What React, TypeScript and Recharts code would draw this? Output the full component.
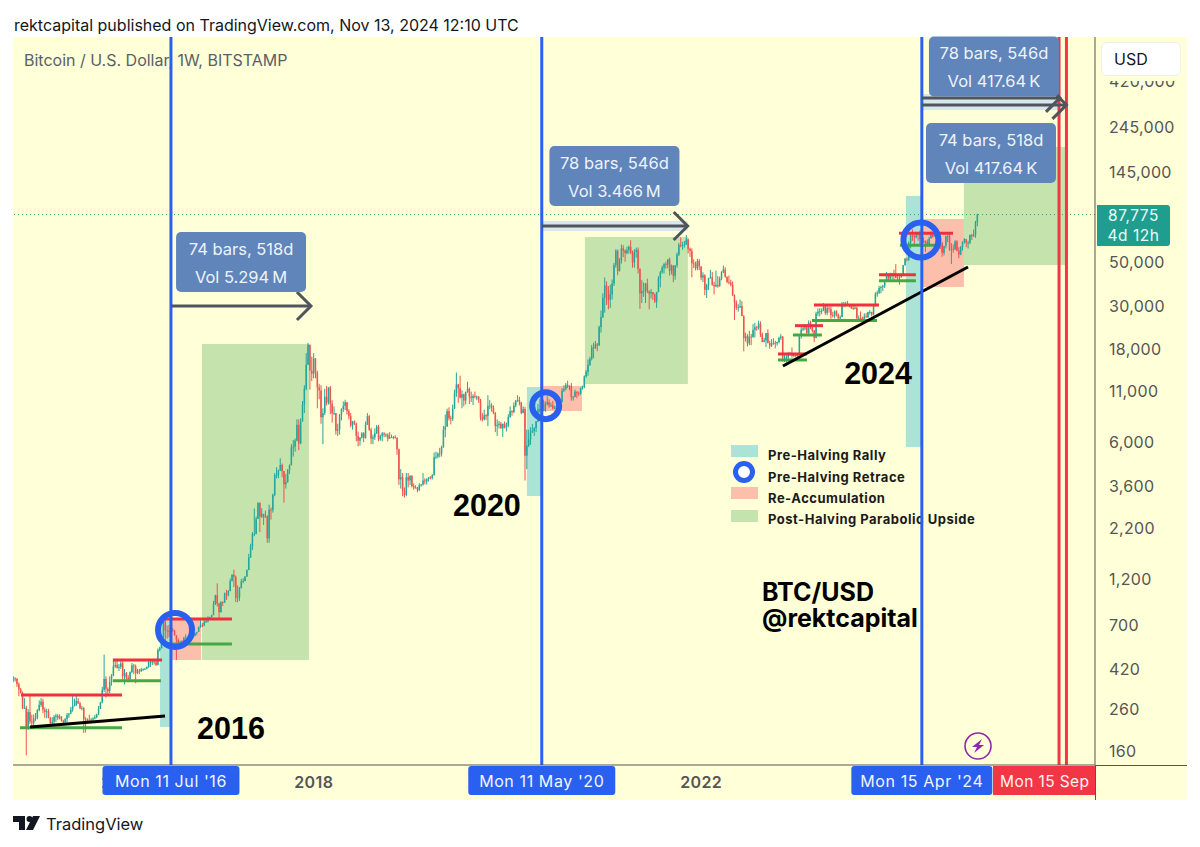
import React from 'react';
import {
    ComposedChart,
    Bar,
    XAxis,
    YAxis,
    ReferenceArea,
    ReferenceLine,
    ReferenceDot,
} from 'recharts';

// weekly bars, rows are [high, low, close], open is the previous close
const firstOpen = 372;
const bars2014 = [[386,360,375],[381,362,375],[375,340,351],[358,305,330],[336,314,317],[322,262,264]];
const bars2015 = [[298,262,266],[272,152,209],[262,205,253],[309,220,226],[245,212,223],[246,216,234],[250,228,237],[262,232,259],[290,255,275],[298,268,286],[295,250,260],[267,236,253],[263,235,255],[262,235,237],[238,214,222],[238,217,226],[244,215,239],[248,225,242],[247,230,236],[246,232,240],[240,226,229],[231,220,224],[236,223,233],[250,224,244],[250,236,248],[268,248,260],[310,254,272],[296,270,274],[308,272,288],[298,278,280],[285,262,264],[272,258,265],[268,198,232],[238,199,229],[235,224,231],[245,226,230],[236,222,231],[238,223,234],[245,232,238],[248,235,246],[272,244,262],[285,262,283],[340,280,328],[497,320,373],[385,300,332],[338,312,323],[385,315,360],[395,345,388],[468,385,433],[470,425,440],[470,422,425],[445,410,430]];
const bars2016 = [[460,420,448],[460,360,386],[420,350,400],[405,362,378],[390,365,372],[408,370,405],[450,400,437],[445,395,432],[442,355,400],[420,395,412],[420,395,410],[425,405,417],[422,410,420],[425,415,420],[432,418,430],[460,425,455],[468,430,455],[465,440,458],[462,442,455],[462,435,440],[535,438,525],[545,515,535],[610,535,605],[770,605,745],[765,550,660],[700,600,655],[705,610,650],[680,640,665],[680,650,655],[665,620,625],[625,466,590],[600,570,575],[585,550,580],[590,560,570],[612,562,605],[630,600,608],[612,600,608],[612,590,600],[610,595,608],[620,605,618],[645,615,640],[650,625,648],[690,648,688],[745,680,705],[720,685,700],[755,695,730],[755,720,735],[780,725,765],[775,745,772],[795,770,790],[935,790,900],[1005,890,998]];
const bars2017 = [[1150,875,905],[915,745,820],[930,812,920],[930,880,915],[1030,915,1020],[1065,945,1000],[1060,985,1050],[1215,1045,1180],[1280,1175,1270],[1350,1100,1240],[1260,920,968],[1120,920,975],[1100,935,1085],[1210,1085,1175],[1220,1150,1180],[1250,1175,1245],[1350,1240,1345],[1625,1340,1555],[1830,1550,1770],[2100,1700,2050],[2770,2000,2050],[2520,2050,2450],[2980,2450,2950],[2980,2100,2520],[2780,2480,2600],[2600,2280,2500],[2700,2480,2520],[2560,1850,1950],[2900,1850,2730],[2800,2430,2720],[3300,2640,3250],[4200,3200,4100],[4500,3950,4100],[4380,3950,4340],[5000,4300,4620],[4700,4000,4300],[4300,2970,3680],[4150,3500,3780],[4400,3750,4370],[4650,4150,4610],[5900,4600,5680],[6200,5100,5730],[6300,5400,6150],[7900,6100,7400],[7900,5500,5950],[8000,5900,7700],[9800,7700,9400],[11800,8500,11300],[17200,11100,15000],[19400,15000,19000],[19000,11200,14000],[16500,12400,13500]];
const bars2018 = [[17200,12800,16200],[16200,12800,13700],[14000,9000,11500],[12000,10000,11100],[11800,7500,8100],[9000,5900,8500],[11300,8300,10300],[11700,9300,9600],[11500,9400,11500],[11700,8400,9500],[9900,7600,8500],[9200,8300,8500],[8500,6600,6900],[7500,6500,7000],[8400,6600,8350],[9000,7800,8900],[9750,8600,9250],[9950,8800,9650],[9700,8350,8700],[8900,7900,8200],[8500,7200,7350],[7750,7000,7700],[7800,7400,7500],[7600,6100,6500],[6850,5750,6150],[6400,5800,6380],[6800,6300,6700],[6800,6050,6350],[7700,6300,7400],[8500,7400,8200],[8300,6900,7000],[7150,5900,6300],[6600,5900,6400],[7100,6200,6700],[7400,6650,7250],[7400,6100,6250],[6600,6150,6500],[6800,6100,6700],[6800,6400,6600],[6700,6400,6600],[6700,6100,6300],[6800,6350,6420],[6600,6350,6400],[6500,6250,6420],[6550,6300,6350],[6400,5200,5550],[5600,3650,3900],[4400,3500,4000],[4200,3200,3400],[3550,3150,3250],[4200,3200,4000],[4200,3550,3850]];
const bars2019 = [[4100,3650,4050],[4100,3550,3600],[3720,3450,3550],[3640,3500,3540],[3560,3350,3450],[3730,3400,3650],[3700,3580,3670],[4200,3620,3850],[3950,3680,3810],[3950,3670,3920],[4000,3800,3990],[4050,3900,3970],[4150,3900,4100],[5350,4080,5050],[5400,4950,5100],[5350,5000,5290],[5650,5050,5280],[5800,5100,5700],[7300,5650,7000],[8350,6400,7250],[8950,7250,8700],[9100,7800,8000],[8250,7450,7950],[9400,7750,8950],[11200,8950,10800],[13700,10300,11900],[12000,9600,11400],[13200,10100,10200],[11100,9000,10600],[10700,9200,9850],[10950,9400,10900],[12300,10800,11300],[11500,9450,10300],[10950,9700,10150],[10600,9350,10400],[10950,10100,10300],[10450,9900,10300],[10400,9600,9980],[10050,7800,8050],[8500,7700,7900],[8850,7800,8300],[8400,7850,8200],[10500,7300,9250],[9900,8900,9300],[9550,8650,9050],[9300,8400,8500],[8600,6800,7300],[7900,6500,7400],[7750,7100,7500],[7650,7100,7100],[7500,6430,7500],[7700,7100,7200]];
const bars2020 = [[7600,6850,7350],[8400,7200,8100],[9200,8050,8700],[8800,8250,8600],[9650,8500,9300],[9900,9100,9850],[10500,9700,9900],[10300,9300,9650],[9700,8400,8500],[9200,8500,8900],[9150,3850,5150],[7000,4400,5800],[7000,5700,6250],[7200,5850,6770],[7470,6750,6900],[7200,6500,7120],[7750,6800,7700],[9450,7650,8900],[10050,8500,8720],[9950,8200,9680],[9950,8800,8700],[9750,8650,9440],[10400,9300,9660],[10000,9050,9300],[9620,9150,9300],[9800,8850,9000],[9280,8900,9070],[9500,9050,9300],[9350,9000,9160],[9800,9120,9700],[11400,9650,11080],[11800,10900,11290],[12100,11100,11850],[12450,11400,11680],[11800,11100,11700],[12100,9850,10250],[10400,9850,10300],[11200,10250,10950],[10950,10150,10780],[10950,10400,10700],[11500,10550,11400],[11750,11200,11500],[13250,11400,13100],[14100,12900,13800],[15950,13200,15000],[16500,14800,16100],[18950,15800,18400],[19500,16200,18200],[19850,18100,19100],[19400,17600,18800],[23800,19000,23400],[28400,21900,26300]];
const bars2021 = [[34800,26000,33000],[41900,27700,38100],[40000,30300,36000],[37900,28800,32200],[38500,29200,34300],[40900,32300,39000],[49700,37900,48500],[58300,47000,57400],[58300,43000,45200],[52600,44900,51000],[61700,49300,59000],[61200,53200,57500],[58400,50400,55800],[60200,55000,57700],[61000,55500,60000],[64900,55000,56000],[57500,47000,50000],[58400,47000,56700],[59500,52900,58000],[59600,43900,46400],[46700,29000,34700],[40700,31000,35700],[39500,33400,35800],[39300,31000,39000],[41300,34800,35600],[36000,28800,34700],[36600,32700,35300],[35100,32100,34300],[34700,31000,31500],[35400,29300,35300],[42500,35200,41500],[45300,37300,44500],[48100,43800,47000],[49700,43900,49000],[50500,46400,48800],[52000,46700,51800],[52900,42800,45200],[48800,43400,48300],[47300,39600,42700],[48400,40800,48200],[56200,47000,54900],[62900,53900,61500],[67000,59700,60900],[63700,58000,61300],[64300,59500,61500],[69000,62300,65500],[66300,55600,58700],[59500,53300,57200],[59000,42000,49400],[51900,46800,49300],[50500,45500,46700],[52100,45600,50800]];
const bars2022 = [[52000,45700,47700],[47500,40500,41800],[44500,39700,43000],[43500,34000,36200],[38900,32900,38200],[41700,36200,41400],[45800,41700,42000],[44700,38000,38400],[39800,34300,37700],[45400,37400,38400],[42600,37100,37800],[42300,37600,41300],[45100,40500,44500],[48200,44100,46000],[47200,41800,42200],[42400,39200,39700],[42900,38600,39400],[40800,37700,38500],[40000,33700,34000],[34300,25400,31300],[32000,28600,29400],[30600,28000,29500],[32300,29300,29900],[31700,26600,26600],[26900,17600,20500],[21900,19700,21000],[21500,18600,19300],[22400,18900,20900],[21600,18900,20800],[24200,20600,22600],[24600,20700,23300],[23700,22400,23200],[25200,22700,24300],[25000,20800,21500],[21900,19600,19600],[20600,19600,20000],[21800,18500,21800],[22800,19300,19400],[19900,18100,18800],[20300,18500,19300],[20500,19000,19400],[19900,18200,19300],[19700,18800,19600],[20900,19300,20600],[21500,20100,20900],[21000,15600,16300],[17200,15500,16300],[16800,15400,16400],[17400,16000,17000],[17400,16700,17100],[18400,16300,16700],[17000,16400,16800]];
const bars2023 = [[16950,16400,16600],[17100,16500,17000],[21300,17000,21100],[23400,20400,22700],[23900,22300,23000],[24200,22500,23300],[23500,21400,21800],[25300,21400,24600],[25200,22800,23500],[24000,21900,22400],[22600,19600,20600],[28000,20500,27400],[29100,26600,28000],[29200,26500,28200],[29100,27200,28300],[31000,28200,30300],[30400,27000,27600],[30000,26900,29200],[29800,27700,28900],[29800,25800,26900],[28000,26200,26700],[28400,25900,28100],[28500,26500,27100],[27400,25400,25900],[26800,24800,26300],[31400,26300,30500],[31400,29500,30500],[31500,29700,30300],[31800,29900,30300],[30400,29500,29800],[30000,28900,29300],[30000,28600,29000],[30200,28800,29300],[29700,25200,26000],[26800,25300,26000],[28100,25300,25900],[26400,24900,25800],[27500,24900,26500],[27500,26000,26300],[28000,26000,27900],[28600,27100,27900],[28000,26500,27100],[30200,26800,30000],[35200,29800,34500],[35900,33400,35000],[38000,34500,37000],[38000,34800,37400],[38400,35700,37800],[40300,37000,39900],[44700,39900,43800],[44000,40200,41300],[44300,40500,43000]];
const bars2024 = [[44200,41000,44100],[45900,40700,43900],[49000,41500,41700],[43600,40300,41600],[42800,38500,42000],[43900,41800,43000],[48500,42500,48300],[52800,48300,52100],[52900,50600,51700],[64000,50900,63100],[70100,59000,68900],[73800,64500,68400],[68900,60800,67200],[71700,66400,69700],[71000,64600,69400],[72800,60700,65700],[66900,59600,64900],[67200,62800,63100],[64700,56500,64000],[65500,60200,61500],[67700,60700,66300],[71900,66200,69000],[71000,66700,67800],[71900,67600,69600],[70200,65100,66200],[67200,63400,64200],[64500,58500,62700],[63800,53500,55900],[60800,54300,60700],[68300,59000,68000],[69400,63400,68200],[70000,57200,58100],[62700,49100,58700],[61800,56100,58400],[65000,57800,64000],[64900,57100,57300],[59800,52500,54800],[60600,54500,60000],[64100,57500,63600],[66500,62400,65800],[65600,59800,62800],[64500,58900,62900],[69400,62000,69000],[70000,65100,68000],[73600,67500,68800],[81500,66800,80400],[88500,76500,87775]];

// axes, x is the week number counted from Mon 24 Nov 2014
const xDomain = [-0.2, 583.4];
const yDomain = [135.7, 708000];
const yearTicks = [58, 162, 371];
const yearLabels = ['2016', '2018', '2022'];
const priceTicks = [160, 260, 420, 700, 1200, 2200, 3600, 6000, 11000, 18000, 30000, 50000, 145000, 245000, 420000];
const lastPrice = 87775;
const lastCountdown = '4d 12h';

const halvingWeeks = [85, 285, 490];
const halvingLabels = ["Mon 11 Jul '16", "Mon 11 May '20", "Mon 15 Apr '24"];
const projectedWeeks = [564, 568];
const projectedLabel = 'Mon 15 Sep';

// zones are [week from, week to, price top, price bottom]
const rallyZones = [[79.1, 85, 746, 212], [277, 285, 11560, 3209], [481.4, 490, 109200, 5707]];
const reaccumZones = [[85, 101.2, 746, 466], [285, 306.7, 11695, 8716], [490, 512.7, 83370, 37480]];
const parabolicZones = [[101.7, 159.4, 19170, 466], [308.3, 363.8, 67450, 11975], [512.7, 568.3, 194400, 48500]];

// levels are [week from, week to, price]
const resistanceLevels = [[4.1, 58.6, 309], [53.7, 80.2, 466], [82, 117.9, 755], [412.4, 428, 17040], [421.6, 436.7, 23770], [431.8, 466.9, 30300], [466.9, 486.8, 43300], [477.7, 506.8, 70470]];
const supportLevels = [[3.6, 58.6, 210], [53.7, 79.6, 365], [82.8, 117.9, 563], [412.4, 428, 15880], [420.5, 436.1, 21300], [430.7, 465.8, 25220], [466.9, 486.8, 40360], [478.2, 499.8, 61170]];
// trends are [week from, price from, week to, price to]
const trendLines = [[9, 212, 81.8, 241.6], [415.1, 14800, 514.9, 47400]];

const retraceCircles = [[87.2, 664, 17], [287.1, 9280, 13.5], [489.5, 65120, 17.5]];

// arrows are [week from, week to, price]
const rangeArrows = [[85, 160.5, 29960], [285, 363.7, 76750], [490, 564.5, 345900], [490, 568, 318600]];
const rangeBands = [[285, 363.7, 81400, 72400], [490, 564.5, 362000, 300000]];
// boxes are [week, price, first line, second line]
const rangeBoxes: [number, number, string, string][] = [
    [122.8, 50280, '74 bars, 518d', 'Vol 5.294\u2009M'],
    [324.2, 138200, '78 bars, 546d', 'Vol 3.466\u2009M'],
    [528.9, 501000, '78 bars, 546d', 'Vol 417.64\u2009K'],
    [527.3, 181100, '74 bars, 518d', 'Vol 417.64\u2009K'],
];
const yearNotes: [number, number, string][] = [[117.4, 210, '2016'], [255.4, 2886, '2020'], [466.4, 13630, '2024']];
const legendLabels = ['Pre-Halving Rally', 'Pre-Halving Retrace', 'Re-Accumulation', 'Post-Halving Parabolic Upside'];

const FONT = 'Inter, "Noto Sans", sans-serif';
const UP = '#26a69a';
const DOWN = '#ef5350';
const BLUE = '#2a60f0';
const RED = '#f23645';
const TEAL_ZONE = '#abe4d6';
const PINK_ZONE = '#fbbfab';
const GREEN_ZONE = '#c5e3ac';
const CREAM = '#ffffd8';
const TAG_WIDTHS = [137, 147, 141];
const LEGEND_TOPS = [447, 469, 490, 511];

const allBars = [bars2014, bars2015, bars2016, bars2017, bars2018, bars2019, bars2020, bars2021, bars2022, bars2023, bars2024].flat();
const chartData = allBars.map((row, i) => {
    const open = i === 0 ? firstOpen : allBars[i - 1][2];
    const close = row[2];
    const high = Math.max(row[0], open, close);
    const low = Math.min(row[1], open, close);
    return { i, open, high, low, close, range: [low, high] };
});

function Candle(props: any) {
    const { x, y, width, height, payload } = props;
    if (x == null || y == null) return null;
    const top = Math.min(y, y + height);
    const span = Math.abs(height);
    const mid = x + width / 2;
    const { open, close, high, low } = payload;
    const at = (v: number) => top + (span * (Math.log(high) - Math.log(v))) / (Math.log(high) - Math.log(low));
    const color = close >= open ? UP : DOWN;
    const bodyTop = at(Math.max(open, close));
    const bodyBottom = at(Math.min(open, close));
    return (
        <g>
            <line x1={mid} x2={mid} y1={top} y2={top + span} stroke={color} strokeWidth={1} />
            <rect x={mid - 0.75} y={bodyTop} width={1.5} height={Math.max(bodyBottom - bodyTop, 0.8)} fill={color} />
        </g>
    );
}

function DateTag({ cx, cy, text, width }: any) {
    return (
        <g>
            <rect x={cx - width / 2} y={cy + 1} width={width} height={29} rx={3} fill={BLUE} />
            <text x={cx} y={cy + 22} textAnchor="middle" fontFamily={FONT} fontSize={16} letterSpacing={0.6} fill="#f2f5ff">{text}</text>
        </g>
    );
}

function ProjectedTag({ cx, cy }: any) {
    return (
        <g>
            <rect x={cx - 66} y={cy + 1} width={102} height={29} fill={RED} />
            <text x={cx - 59} y={cy + 22} fontFamily={FONT} fontSize={15.5} letterSpacing={0.4} fill="#fff2f2">{projectedLabel}</text>
        </g>
    );
}

function RangeBox({ cx, cy, first, second }: any) {
    return (
        <g>
            <rect x={cx - 65} y={cy - 30} width={130} height={60} rx={5} fill="#5f85bb" />
            <text x={cx} y={cy - 7} textAnchor="middle" fontFamily={FONT} fontSize={16.5} fill="#eef3fa">{first}</text>
            <text x={cx} y={cy + 21} textAnchor="middle" fontFamily={FONT} fontSize={16.5} fill="#eef3fa">{second}</text>
        </g>
    );
}

function ArrowHead({ cx, cy }: any) {
    return <path d={`M${cx - 14} ${cy - 14}L${cx} ${cy}L${cx - 14} ${cy + 14}`} fill="none" stroke="#50555c" strokeWidth={3} />;
}

function YearNote({ cx, cy, text }: any) {
    return (
        <text x={cx} y={cy + 11} textAnchor="middle" fontFamily="'Liberation Sans', sans-serif" fontWeight={700} fontSize={30.5} fill="#000">{text}</text>
    );
}

function Bolt({ cx, cy }: any) {
    return (
        <g>
            <circle cx={cx} cy={cy} r={13} fill={CREAM} stroke="#8e2aa8" strokeWidth={1.6} />
            <path d={`M${cx + 4} ${cy - 7}L${cx - 6} ${cy + 1}H${cx - 1}L${cx - 4} ${cy + 7}L${cx + 6} ${cy - 1}H${cx + 1}Z`} fill="#8e2aa8" />
        </g>
    );
}

const abs = (left: number, top: number): React.CSSProperties => ({ position: 'absolute', left, top });

export default function App() {
    const tagProps: any = { zIndex: 3000, ifOverflow: 'visible' };
    return (
        <div style={{ position: 'absolute', left: 0, top: 0, width: 1200, height: 847, background: '#fff', overflow: 'hidden', fontFamily: FONT }}>
            <div style={{ ...abs(14, 15), fontSize: 16, color: '#131722', whiteSpace: 'nowrap' }}>
                rektcapital published on TradingView.com, Nov 13, 2024 12:10 UTC
            </div>
            <div style={{ ...abs(13, 37), width: 1174, height: 763, background: CREAM }} />
            <div style={{ ...abs(24, 50), fontSize: 16, color: '#5a5f66', whiteSpace: 'nowrap' }}>
                Bitcoin / U.S. Dollar, 1W, BITSTAMP
            </div>

            <div style={{ ...abs(731, 445), width: 27, height: 12, background: TEAL_ZONE }} />
            <div style={{ ...abs(733, 461), width: 12, height: 12, border: `5px solid ${BLUE}`, borderRadius: '50%', background: '#fff' }} />
            <div style={{ ...abs(731, 487), width: 27, height: 12, background: PINK_ZONE }} />
            <div style={{ ...abs(731, 510), width: 27, height: 12, background: GREEN_ZONE }} />
            {legendLabels.map((label, i) => (
                <div key={label} style={{ ...abs(768, LEGEND_TOPS[i]), fontSize: 13, fontWeight: 700, letterSpacing: 0.5, color: '#1a1a1a', whiteSpace: 'nowrap', lineHeight: '16px' }}>
                    {label}
                </div>
            ))}
            <div style={{ ...abs(762, 579), fontSize: 25, fontWeight: 700, color: '#000', lineHeight: '26px', whiteSpace: 'nowrap' }}>
                BTC/USD
                <br />
                @rektcapital
            </div>

            <div style={abs(0, 0)}>
                <ComposedChart width={1200} height={847} data={chartData} margin={{ top: 37, right: 0, bottom: 0, left: 13 }}>
                    <XAxis
                        dataKey="i"
                        type="number"
                        domain={xDomain}
                        allowDataOverflow
                        ticks={yearTicks}
                        interval={0}
                        height={82}
                        tickSize={0}
                        tickMargin={12}
                        tickFormatter={(v: number) => yearLabels[yearTicks.indexOf(v)]}
                        tick={{ fontSize: 16, fontWeight: 600, fill: '#555', fontFamily: FONT, letterSpacing: 0.4 }}
                        axisLine={{ stroke: '#555' }}
                    />
                    <YAxis
                        orientation="right"
                        scale="log"
                        domain={yDomain}
                        allowDataOverflow
                        ticks={priceTicks}
                        interval={0}
                        width={105}
                        tickSize={0}
                        tickMargin={14}
                        tickFormatter={(v: number) => v.toLocaleString('en-US')}
                        tick={{ fontSize: 16, fill: '#555', fontFamily: FONT, letterSpacing: 0.3 }}
                        axisLine={{ stroke: '#555' }}
                    />

                    {rallyZones.map((z, i) => (
                        <ReferenceArea key={`rally${i}`} x1={z[0]} x2={z[1]} y1={z[2]} y2={z[3]} fill={TEAL_ZONE} fillOpacity={1} stroke="none" />
                    ))}
                    {reaccumZones.map((z, i) => (
                        <ReferenceArea key={`pink${i}`} x1={z[0]} x2={z[1]} y1={z[2]} y2={z[3]} fill={PINK_ZONE} fillOpacity={1} stroke="none" />
                    ))}
                    {parabolicZones.map((z, i) => (
                        <ReferenceArea key={`green${i}`} x1={z[0]} x2={z[1]} y1={z[2]} y2={z[3]} fill={GREEN_ZONE} fillOpacity={1} stroke="none" />
                    ))}
                    {rangeBands.map((z, i) => (
                        <ReferenceArea key={`band${i}`} x1={z[0]} x2={z[1]} y1={z[2]} y2={z[3]} fill="#d8e8ea" fillOpacity={1} stroke="none" />
                    ))}

                    <ReferenceLine y={lastPrice} stroke={UP} strokeDasharray="1 3" strokeWidth={1} />

                    <Bar dataKey="range" barSize={2} isAnimationActive={false} shape={<Candle />} />

                    {resistanceLevels.map((l, i) => (
                        <ReferenceLine key={`res${i}`} segment={[{ x: l[0], y: l[2] }, { x: l[1], y: l[2] }]} stroke="#f0303e" strokeWidth={3} />
                    ))}
                    {supportLevels.map((l, i) => (
                        <ReferenceLine key={`sup${i}`} segment={[{ x: l[0], y: l[2] }, { x: l[1], y: l[2] }]} stroke="#45a845" strokeWidth={3} />
                    ))}
                    {trendLines.map((l, i) => (
                        <ReferenceLine key={`trend${i}`} segment={[{ x: l[0], y: l[1] }, { x: l[2], y: l[3] }]} stroke="#000" strokeWidth={3} />
                    ))}
                    {retraceCircles.map((c, i) => (
                        <ReferenceDot key={`circle${i}`} x={c[0]} y={c[1]} r={c[2]} fill="none" stroke={BLUE} strokeWidth={6} />
                    ))}

                    {projectedWeeks.map((w) => (
                        <ReferenceLine key={w} x={w} stroke={RED} strokeWidth={3} />
                    ))}
                    {halvingWeeks.map((w) => (
                        <ReferenceLine key={w} x={w} stroke={BLUE} strokeWidth={3} />
                    ))}

                    {rangeArrows.map((a, i) => (
                        <ReferenceLine key={`arrow${i}`} segment={[{ x: a[0], y: a[2] }, { x: a[1], y: a[2] }]} stroke="#50555c" strokeWidth={3} />
                    ))}
                    {rangeArrows.map((a, i) => (
                        <ReferenceDot key={`head${i}`} x={a[1]} y={a[2]} shape={<ArrowHead />} />
                    ))}
                    {rangeBoxes.map((b, i) => (
                        <ReferenceDot key={`box${i}`} x={b[0]} y={b[1]} shape={<RangeBox first={b[2]} second={b[3]} />} />
                    ))}
                    {yearNotes.map((n) => (
                        <ReferenceDot key={n[2]} x={n[0]} y={n[1]} shape={<YearNote text={n[2]} />} />
                    ))}
                    <ReferenceDot x={520.3} y={169.6} shape={<Bolt />} />

                    {halvingWeeks.map((w, i) => (
                        <ReferenceDot key={`tag${w}`} x={w} y={yDomain[0]} {...tagProps} shape={<DateTag text={halvingLabels[i]} width={TAG_WIDTHS[i]} />} />
                    ))}
                    <ReferenceDot x={projectedWeeks[0]} y={yDomain[0]} {...tagProps} shape={<ProjectedTag />} />
                </ComposedChart>
            </div>

            <div style={{ ...abs(1095, 765), width: 92, height: 1, background: '#555' }} />
            <div style={{ ...abs(1095, 765), width: 1, height: 35, background: '#555' }} />
            <div style={{ ...abs(1101, 76), width: 80, height: 5, background: CREAM }} />
            <div style={{ ...abs(1101, 42), width: 80, height: 34, boxSizing: 'border-box', background: '#fff', border: '1px solid #f0f0e8', borderRadius: 6, fontSize: 16, color: '#131722', lineHeight: '32px', paddingLeft: 12 }}>
                USD
            </div>
            <div style={{ ...abs(1097, 205), width: 73, height: 41, background: '#1f9e8f', borderRadius: '0 3px 3px 0', color: '#eafaf6', fontSize: 15.5, letterSpacing: 0.5, lineHeight: '20px', paddingTop: 1, boxSizing: 'border-box', textAlign: 'center' }}>
                {lastPrice.toLocaleString('en-US')}
                <br />
                {lastCountdown}
            </div>

            <svg style={abs(13, 815)} width={28} height={16}>
                <path d="M0 1H12V15H6V7H0Z" fill="#131722" />
                <circle cx={16.5} cy={4} r={3} fill="#131722" />
                <path d="M20 1H27L20 15H13Z" fill="#131722" />
            </svg>
            <div style={{ ...abs(46, 813), fontSize: 16.5, fontWeight: 400, color: '#131722', lineHeight: '22px' }}>TradingView</div>
        </div>
    );
}
